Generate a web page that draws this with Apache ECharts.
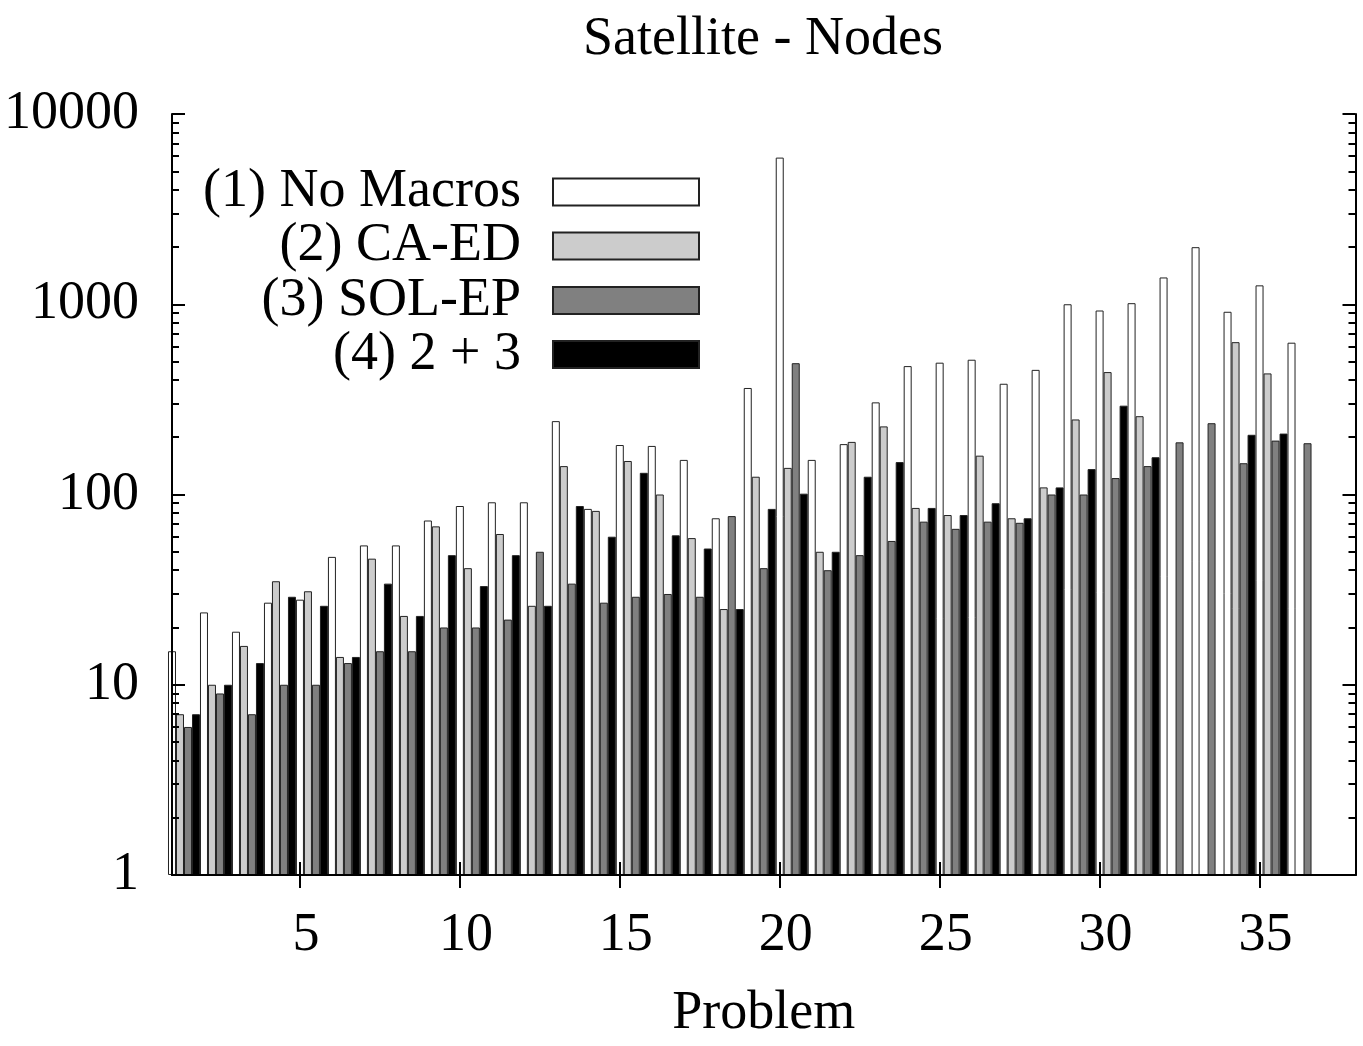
<!DOCTYPE html>
<html>
<head>
<meta charset="utf-8">
<script src="https://cdn.jsdelivr.net/npm/echarts@6/dist/echarts.min.js"></script>
<style>
html,body{margin:0;padding:0;background:#fff;}
#chart{width:1363px;height:1046px;}
</style>
</head>
<body>
<div id="chart"></div>
<script>
// ---- data ----
const problems = [1,2,3,4,5,6,7,8,9,10,11,12,13,14,15,16,17,18,19,20,21,22,23,24,25,26,27,28,29,30,31,32,33,34,35,36];
const seriesNames = ['(1) No Macros', '(2) CA-ED', '(3) SOL-EP', '(4) 2 + 3'];
const noMacros = [15,24,19,27,28,47,54,54,73,87,91,91,243,84,182,180,152,75,363,5900,152,184,305,473,493,511,382,452,1000,927,1013,1383,1995,913,1257,628];
const caEd     = [7,10,16,35,31,14,46,23,68,41,62,26,141,82,150,100,59,25,124,138,50,189,228,85,78,160,75,109,248,440,258,null,null,632,433,null];
const solEp    = [6,9,7,10,10,13,15,15,20,20,22,50,34,27,29,30,29,77,41,490,40,48,57,72,66,72,71,100,100,122,141,188,237,146,192,186];
const both     = [7,10,13,29,26,14,34,23,48,33,48,26,87,60,130,61,52,25,84,101,50,124,148,85,78,90,75,109,136,293,157,null,null,206,209,null];
const xTickLabels = [5,10,15,20,25,30,35];
const yTickLabels = [1,10,100,1000,10000];

// ---- style / layout ----
const FONT = 'Liberation Serif';
const FS = 54;
const colors = ['#ffffff', '#cccccc', '#808080', '#000000'];
const values = [noMacros, caEd, solEp, both];
const legendCenters = [191, 245, 299.5, 353.5];

// minor tick positions for the log axis, in decades (axis furniture only)
const minorPos = [];
for (let d = 0; d < 4; d++) for (let k = 2; k <= 9; k++) minorPos.push(d + Math.log10(k));

const tickStyle = {lineStyle: {color: '#000', width: 2}};
const lineStyle = {show: true, lineStyle: {color: '#000', width: 2}};

const chart = echarts.init(document.getElementById('chart'), null, {renderer: 'canvas'});
chart.setOption({
  animation: false,
  backgroundColor: '#fff',
  title: {
    text: 'Satellite - Nodes',
    left: 758, top: 8, textAlign: 'center',
    textStyle: {fontFamily: FONT, fontSize: FS, fontWeight: 'normal', color: '#000'}
  },
  legend: seriesNames.map((n, i) => ({
    data: [n],
    orient: 'vertical',
    right: 663,
    top: legendCenters[i] - 26,
    itemWidth: 146, itemHeight: 27,
    align: 'right',
    padding: 0,
    icon: 'rect',
    selectedMode: false,
    textStyle: {fontFamily: FONT, fontSize: FS, lineHeight: 40, color: '#000', padding: [0, 27, 0, 0]}
  })),
  grid: {left: 172, top: 114, width: 1183.5, height: 769, containLabel: false},
  xAxis: [
    { // visible bottom axis with labels
      type: 'value', position: 'bottom', min: 1, max: 38, z: 10,
      axisLine: lineStyle,
      axisTick: Object.assign({show: true, inside: true, length: 13, customValues: xTickLabels}, tickStyle),
      axisLabel: {show: true, customValues: xTickLabels, margin: 34, padding: [0, 0, 0, 12],
                  fontFamily: FONT, fontSize: FS, color: '#000'},
      splitLine: {show: false},
      name: 'Problem', nameLocation: 'middle', nameGap: 112,
      nameTextStyle: {fontFamily: FONT, fontSize: FS, color: '#000'}
    },
    { // mirrored top axis
      type: 'value', position: 'top', min: 1, max: 38, z: 10,
      axisLine: lineStyle,
      axisTick: Object.assign({show: true, inside: true, length: 13, customValues: xTickLabels}, tickStyle),
      axisLabel: {show: false},
      splitLine: {show: false}
    },
    { // hidden axis the bar clusters are placed on
      type: 'value', position: 'bottom', min: 0.625, max: 37.625, show: false
    }
  ],
  yAxis: [
    {
      type: 'log', logBase: 10, min: 1, max: 10000, position: 'left', z: 10,
      axisLine: lineStyle,
      axisTick: Object.assign({show: true, inside: true, length: 13}, tickStyle),
      axisLabel: {margin: 33, fontFamily: FONT, fontSize: FS, color: '#000', formatter: v => String(Math.round(v))},
      splitLine: {show: false}
    },
    {
      type: 'log', logBase: 10, min: 1, max: 10000, position: 'right', z: 10,
      axisLine: lineStyle,
      axisTick: Object.assign({show: true, inside: true, length: 13}, tickStyle),
      axisLabel: {show: false},
      splitLine: {show: false}
    },
    {
      type: 'value', min: 0, max: 4, position: 'left', z: 10,
      axisLine: {show: false},
      axisTick: Object.assign({show: true, inside: true, length: 7, customValues: minorPos}, tickStyle),
      axisLabel: {show: false},
      splitLine: {show: false}
    },
    {
      type: 'value', min: 0, max: 4, position: 'right', z: 10,
      axisLine: {show: false},
      axisTick: Object.assign({show: true, inside: true, length: 7, customValues: minorPos}, tickStyle),
      axisLabel: {show: false},
      splitLine: {show: false}
    }
  ],
  series: seriesNames.map((n, i) => ({
    name: n,
    type: 'bar',
    xAxisIndex: 2,
    yAxisIndex: 0,
    barWidth: 8,
    barGap: '0%',
    itemStyle: {color: colors[i], borderColor: '#222', borderWidth: 1},
    data: problems.map((p, j) => [p, values[i][j]])
  }))
});
</script>
</body>
</html>
